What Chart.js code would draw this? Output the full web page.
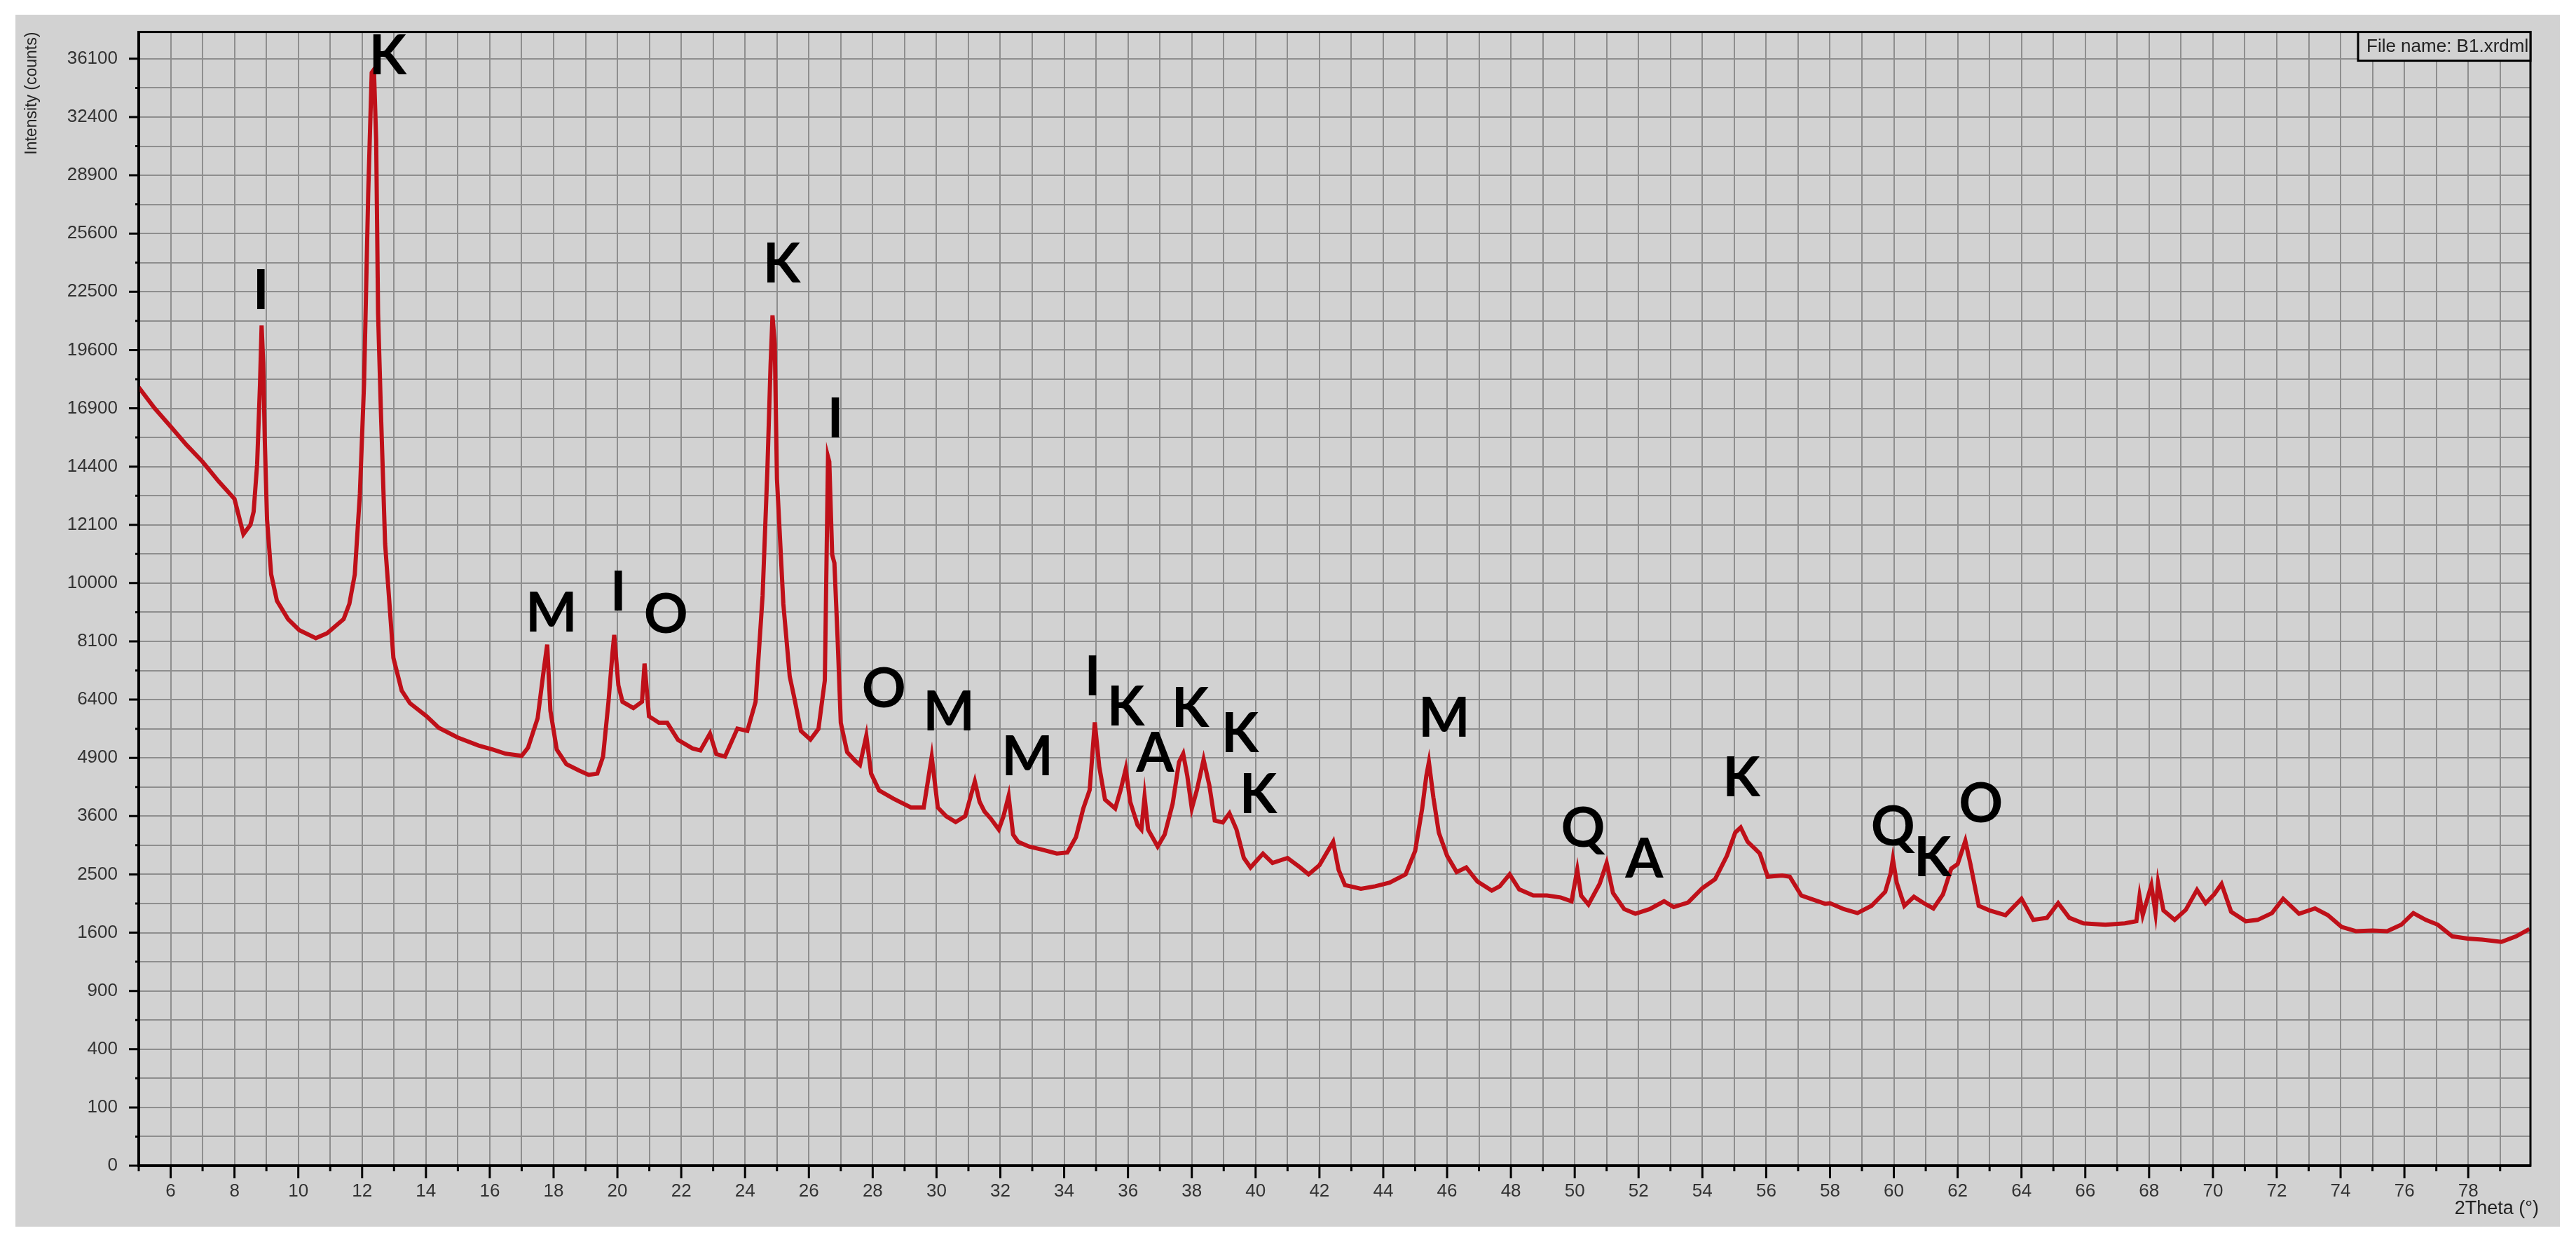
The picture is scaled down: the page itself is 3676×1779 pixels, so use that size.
<!DOCTYPE html>
<html>
<head>
<meta charset="utf-8">
<script src="https://cdn.jsdelivr.net/npm/chart.js@4.4.1/dist/chart.umd.min.js"></script>
<style>
  html, body { margin: 0; padding: 0; background: #fff; }
  canvas { display: block; }
</style>
</head>
<body>
<canvas id="xrd" width="3676" height="1779"></canvas>
<script>
// B1.xrdml - difractograma, eje Y en raíz cuadrada de las cuentas

const twoTheta = [
  5.0, 5.5, 6.0, 6.5, 7.0, 7.5, 8.0, 8.28, 8.5, 8.6, 8.71, 8.8, 8.85, 8.9, 8.95, 9.02, 9.15, 9.33, 9.68, 10.03,
  10.55, 10.9, 11.42, 11.6, 11.77, 11.93, 12.06, 12.19, 12.3, 12.37, 12.44, 12.5, 12.59, 12.72, 12.98, 13.24, 13.5, 14.02, 14.4, 15.0,
  15.65, 16.1, 16.5, 17.0, 17.2, 17.5, 17.7, 17.8, 17.9, 18.1, 18.4, 18.8, 19.1, 19.37, 19.55, 19.72, 19.85, 19.9, 20.03, 20.16,
  20.5, 20.77, 20.85, 20.99, 21.3, 21.56, 21.9, 22.35, 22.6, 22.9, 23.1, 23.37, 23.76, 24.07, 24.33, 24.55, 24.7, 24.8, 24.86, 24.93,
  25.0, 25.2, 25.4, 25.54, 25.75, 26.05, 26.3, 26.5, 26.6, 26.64, 26.73, 26.8, 26.9, 27.0, 27.2, 27.45, 27.6, 27.8, 27.95, 28.2,
  28.65, 29.2, 29.6, 29.85, 30.04, 30.3, 30.6, 30.9, 31.2, 31.35, 31.5, 31.7, 31.95, 32.1, 32.26, 32.4, 32.56, 32.9, 33.33, 33.77,
  34.1, 34.37, 34.6, 34.8, 34.96, 35.1, 35.28, 35.6, 35.77, 35.93, 36.07, 36.3, 36.42, 36.52, 36.63, 36.93, 37.15, 37.4, 37.6, 37.73,
  37.86, 38.0, 38.16, 38.37, 38.55, 38.72, 38.97, 39.18, 39.4, 39.63, 39.84, 40.23, 40.53, 41.0, 41.4, 41.66, 42.0, 42.43, 42.6, 42.8,
  43.3, 43.75, 44.2, 44.7, 45.0, 45.22, 45.35, 45.43, 45.57, 45.74, 46.0, 46.3, 46.6, 46.95, 47.4, 47.65, 47.96, 48.26, 48.7, 49.13,
  49.56, 49.9, 50.08, 50.2, 50.43, 50.78, 51.0, 51.2, 51.55, 51.9, 52.35, 52.8, 53.1, 53.55, 54.0, 54.4, 54.77, 55.03, 55.2, 55.42,
  55.65, 55.8, 56.05, 56.5, 56.74, 57.1, 57.5, 57.85, 58.0, 58.43, 58.86, 59.3, 59.73, 59.9, 59.97, 60.09, 60.33, 60.63, 60.94, 61.24,
  61.54, 61.8, 62.0, 62.24, 62.4, 62.66, 63.0, 63.5, 64.0, 64.37, 64.8, 65.15, 65.5, 65.94, 66.63, 67.24, 67.6, 67.7, 67.8, 68.07,
  68.2, 68.28, 68.45, 68.8, 69.15, 69.5, 69.77, 70.04, 70.27, 70.57, 71.03, 71.4, 71.85, 72.2, 72.7, 73.2, 73.6, 74.03, 74.48, 75.0,
  75.46, 75.9, 76.28, 76.67, 77.05, 77.5, 77.98, 78.44, 79.04, 79.5, 79.92
];

const counts = [
  17850, 16900, 16100, 15300, 14600, 13800, 13100, 11750, 12100, 12600, 14500, 18000, 20800, 19000, 15500, 12300, 10300, 9400, 8800, 8450,
  8200, 8350, 8800, 9300, 10300, 13300, 18000, 27800, 35200, 35400, 31000, 21400, 16700, 11400, 7600, 6650, 6300, 5950, 5650, 5400,
  5200, 5100, 5000, 4950, 5150, 5900, 7300, 8000, 6100, 5100, 4750, 4600, 4500, 4530, 4930, 6340, 7800, 8300, 6800, 6340,
  6170, 6340, 7430, 5950, 5780, 5780, 5340, 5130, 5080, 5500, 4990, 4930, 5630, 5570, 6340, 9570, 14280, 18900, 21300, 19900,
  13900, 9300, 7050, 6460, 5570, 5350, 5620, 6940, 14800, 14600, 11000, 10700, 8200, 5780, 5040, 4830, 4730, 5450, 4530, 4150,
  3970, 3780, 3780, 4930, 3780, 3600, 3480, 3600, 4350, 3900, 3700, 3550, 3330, 3600, 4030, 3230, 3090, 3000, 2940, 2870,
  2890, 3180, 3760, 4160, 5790, 4690, 3950, 3760, 4160, 4640, 3900, 3420, 3330, 4010, 3330, 3000, 3230, 3860, 4800, 5000,
  4470, 3760, 4160, 4860, 4260, 3510, 3470, 3660, 3330, 2790, 2620, 2870, 2700, 2790, 2620, 2500, 2660, 3090, 2580, 2320,
  2260, 2300, 2360, 2500, 2920, 3760, 4480, 4800, 4000, 3270, 2830, 2540, 2620, 2380, 2230, 2300, 2500, 2250, 2150, 2150,
  2120, 2060, 2580, 2150, 2010, 2340, 2700, 2190, 1940, 1870, 1940, 2060, 1970, 2040, 2270, 2420, 2830, 3270, 3370, 3090,
  2960, 2870, 2460, 2480, 2460, 2150, 2080, 2020, 2030, 1940, 1880, 1990, 2210, 2520, 2770, 2360, 1990, 2130, 2030, 1950,
  2170, 2600, 2680, 3110, 2680, 1990, 1920, 1850, 2100, 1780, 1810, 2030, 1810, 1730, 1710, 1730, 1760, 2140, 1850, 2320,
  1880, 2360, 1920, 1780, 1930, 2240, 2030, 2170, 2340, 1900, 1760, 1780, 1880, 2100, 1870, 1950, 1850, 1680, 1620, 1630,
  1620, 1710, 1880, 1780, 1710, 1550, 1520, 1505, 1475, 1550, 1650
];

// etiquetas de fases: letra, 2theta, cuentas (centro de la letra)
const peakLetters = ['I', 'K', 'M', 'I', 'O', 'K', 'I', 'O', 'M', 'M', 'I', 'K', 'A', 'K', 'K', 'K', 'M', 'Q', 'A', 'K', 'Q', 'K', 'O'];
const peakTheta   = [8.83, 12.8, 17.93, 20.03, 21.52, 25.15, 26.83, 28.35, 30.39, 32.85, 34.89, 35.93, 36.85, 37.95, 39.51, 40.08, 45.91, 50.26, 52.18, 55.22, 59.97, 61.21, 62.73];
const peakCounts  = [22400, 36100, 8890, 9600, 8860, 23800, 16300, 6610, 5980, 4850, 6960, 6110, 4940, 6080, 5430, 3990, 5810, 3300, 2710, 4360, 3320, 2745, 3795];

const xTitle = '2Theta (°)';
const yTitle = 'Intensity (counts)';
const fileLabel = 'File name: B1.xrdml';

const tickFont = "'Liberation Sans Narrow', 'Liberation Sans', Arial, sans-serif";

const points = twoTheta.map((t, i) => ({ x: t, y: Math.sqrt(counts[i]) }));

// fondo gris del panel
const panelPlugin = {
  id: 'panel',
  beforeDraw(chart) {
    const ctx = chart.ctx;
    ctx.save();
    ctx.fillStyle = '#fff';
    ctx.fillRect(0, 0, chart.width, chart.height);
    ctx.fillStyle = '#d2d2d2';
    ctx.fillRect(22, 21, 3631, 1729);
    ctx.restore();
  }
};

// marco, marcas de los ejes, títulos y letras
const decorPlugin = {
  id: 'decor',
  afterDraw(chart) {
    const ctx = chart.ctx;
    const area = chart.chartArea;
    const xs = chart.scales.x;
    const ys = chart.scales.y;
    ctx.save();

    ctx.strokeStyle = '#000';
    ctx.lineWidth = 3;
    ctx.strokeRect(area.left, area.top, area.right - area.left, area.bottom - area.top);

    // marcas mayores y menores
    ctx.lineWidth = 3;
    ctx.beginPath();
    xs.ticks.forEach(t => {
      const px = xs.getPixelForValue(t.value);
      const len = Math.round(t.value) % 2 === 0 ? 18 : 8;
      ctx.moveTo(px, area.bottom);
      ctx.lineTo(px, area.bottom + len);
    });
    ys.ticks.forEach(t => {
      const py = ys.getPixelForValue(t.value);
      const len = Math.round(t.value) % 10 === 0 ? 14 : 5;
      ctx.moveTo(area.left, py);
      ctx.lineTo(area.left - len, py);
    });
    ctx.stroke();

    // caja del nombre de archivo
    ctx.fillStyle = '#d2d2d2';
    ctx.fillRect(area.right - 246, area.top, 246, 41);
    ctx.strokeRect(area.right - 246, area.top, 246, 41);
    ctx.fillStyle = '#222';
    ctx.font = "26px " + tickFont;
    ctx.textAlign = 'left';
    ctx.textBaseline = 'middle';
    ctx.fillText(fileLabel, area.right - 234, area.top + 21);

    // título eje x
    ctx.font = "27px " + tickFont;
    ctx.textAlign = 'right';
    ctx.textBaseline = 'middle';
    ctx.fillText(xTitle, area.right + 12, 1725);

    // título eje y
    ctx.translate(46, area.top);
    ctx.rotate(-Math.PI / 2);
    ctx.font = "23px " + tickFont;
    ctx.textAlign = 'right';
    ctx.textBaseline = 'middle';
    ctx.fillText(yTitle, 0, 0);
    ctx.setTransform(1, 0, 0, 1, 0, 0);

    // letras de las fases
    ctx.fillStyle = '#000';
    ctx.font = "bold 78px Lato, 'Open Sans', sans-serif";
    ctx.textAlign = 'center';
    ctx.textBaseline = 'alphabetic';
    peakLetters.forEach((l, i) => {
      const px = xs.getPixelForValue(peakTheta[i]);
      const py = ys.getPixelForValue(Math.sqrt(peakCounts[i]));
      ctx.fillText(l, px, py + 22);
    });

    ctx.restore();
  }
};

new Chart(document.getElementById('xrd').getContext('2d'), {
  type: 'line',
  data: {
    datasets: [{
      data: points,
      borderColor: '#bf1019',
      borderWidth: 6,
      pointRadius: 0,
      tension: 0,
      fill: false
    }]
  },
  options: {
    responsive: false,
    animation: false,
    layout: { padding: { left: 0, top: 34, right: 65, bottom: 0 } },
    plugins: { legend: { display: false }, tooltip: { enabled: false } },
    scales: {
      x: {
        type: 'linear',
        min: 5,
        max: 79.95,
        afterFit(scale) { scale.height = 116; },
        border: { display: true, color: '#000', width: 4 },
        grid: { color: '#8e8e8e', lineWidth: 2, drawTicks: false },
        ticks: {
          stepSize: 1,
          includeBounds: false,
          autoSkip: false,
          maxRotation: 0,
          padding: 21,
          color: '#333',
          font: { family: tickFont, size: 26 },
          callback: v => (Math.round(v) % 2 === 0 ? String(Math.round(v)) : '')
        }
      },
      y: {
        type: 'linear',
        min: 0,
        max: 194.6,
        afterFit(scale) { scale.width = 198; },
        border: { display: true, color: '#000', width: 4 },
        grid: { color: '#8e8e8e', lineWidth: 2, drawTicks: false },
        ticks: {
          stepSize: 5,
          includeBounds: false,
          autoSkip: false,
          padding: 30,
          color: '#333',
          font: { family: tickFont, size: 26 },
          callback: v => {
            const r = Math.round(v);
            return r % 10 === 0 ? String(r * r) : '';
          }
        }
      }
    }
  },
  plugins: [panelPlugin, decorPlugin]
});
</script>
</body>
</html>
